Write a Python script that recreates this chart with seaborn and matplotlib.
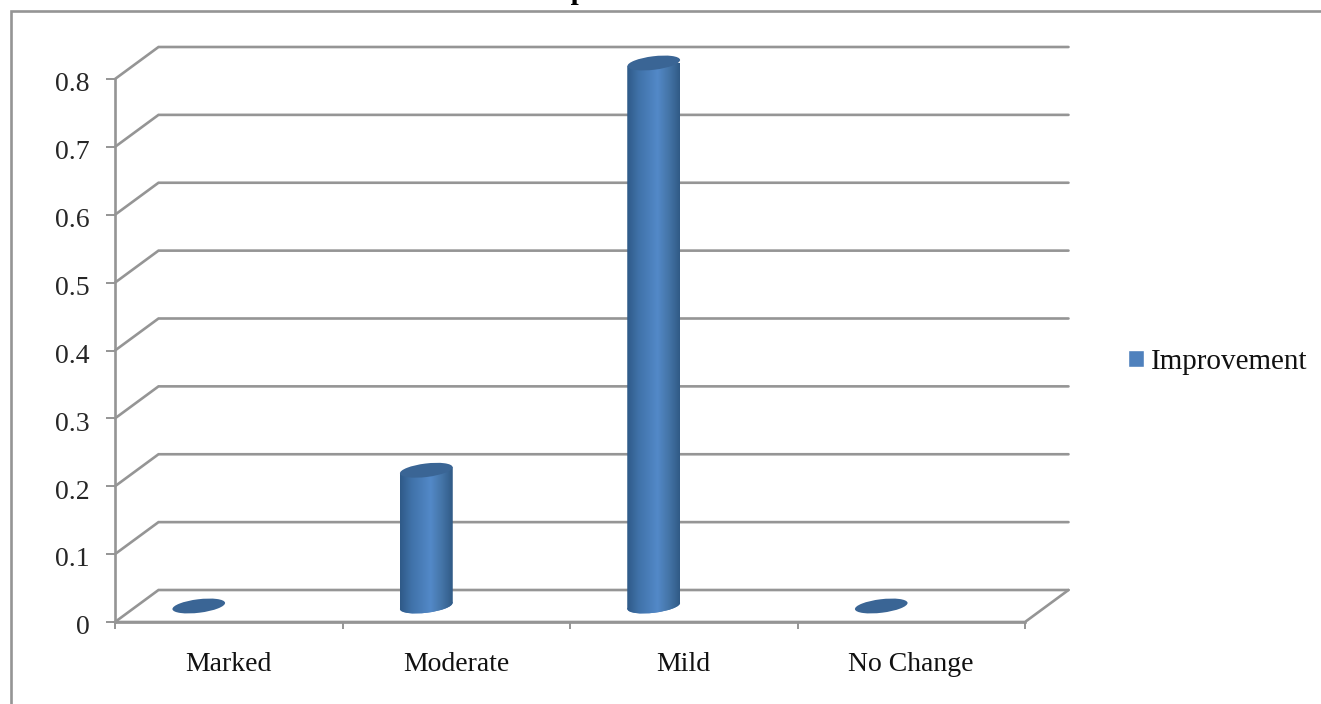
import matplotlib
matplotlib.use("Agg")
import matplotlib.pyplot as plt
from matplotlib.colors import LinearSegmentedColormap
from matplotlib.patches import Ellipse, Patch, Polygon, Rectangle
from matplotlib.transforms import Affine2D, ScaledTranslation
import numpy as np
import pandas as pd
import seaborn as sns

categories = ["Marked", "Moderate", "Mild", "No Change"]
improvement = [0, 0.2, 0.8, 0]
series_name = "Improvement"
y_ticks = [0, 0.1, 0.2, 0.3, 0.4, 0.5, 0.6, 0.7, 0.8]

W, H = 1321, 704
GRAY = "#959595"
BLUE = "#4f81bd"
DARK_TOP = "#3a6595"

sns.set_theme(style="white")
plt.rcParams["font.family"] = ["Liberation Serif", "DejaVu Serif"]
plt.rcParams["text.color"] = "#111111"

fig = plt.figure(figsize=(W / 100, H / 100), dpi=100)


def box(left, top, right, bottom):
    return [left / W, 1 - bottom / H, (right - left) / W, (bottom - top) / H]


# outer frame runs off the right and bottom of the picture
fig.add_artist(Rectangle((11 / W, -0.05), 1.1, 1.05 - 11 / H, transform=fig.transFigure,
                         fill=False, edgecolor=GRAY, linewidth=1.9))
fig.text(620 / W, 1 + 1 / H, series_name, ha="center", va="baseline",
         fontsize=21, fontweight="bold", color="black")

# front plane of the 3D box
ax = fig.add_axes(box(115, 79, 1025, 622))
ax.set_xlim(-0.5, 3.5)
ax.set_ylim(0, 0.8)
ax.patch.set_alpha(0)
dx = 43.5 / 227.5
dy = 32 / 678.75

for v in y_ticks:
    ax.plot([-0.5, -0.5 + dx, 3.5 + dx], [v, v + dy, v + dy], color=GRAY, lw=1.9,
            clip_on=False, solid_joinstyle="miter")
ax.plot([-0.5, 3.5, 3.5 + dx], [0, 0, dy], color=GRAY, lw=1.9, clip_on=False)

for side in ["top", "right"]:
    ax.spines[side].set_visible(False)
for side in ["left", "bottom"]:
    ax.spines[side].set_color(GRAY)
    ax.spines[side].set_linewidth(1.9)
ax.set_yticks(y_ticks, [f"{v:g}" for v in y_ticks], fontsize=20)
ax.set_xticks([-0.5, 0.5, 1.5, 2.5, 3.5], [""] * 5)
ax.tick_params(axis="x", which="major", length=5, width=1.4, color=GRAY, bottom=True)
ax.tick_params(axis="y", which="major", length=6.5, width=1.4, color=GRAY, left=True, pad=12)
nudge = ScaledTranslation(0, -2 / 72, fig.dpi_scale_trans)
for label in ax.get_yticklabels():
    label.set_transform(label.get_transform() + nudge)
for i, name in enumerate(categories):
    ax.text(i, -0.0725, name, ha="center", va="baseline", fontsize=20)

# bars sit inside the box, so they get their own axes shifted back and up
bar_ax = fig.add_axes(box(85, 63, 995, 626))
df = pd.DataFrame({"category": categories, "value": improvement})
sns.barplot(data=df, x="category", y="value", color=BLUE, width=53 / 227.5,
            saturation=1, ax=bar_ax)
low = -20 / 678.75
bar_ax.set_xlim(-0.5, 3.5)
bar_ax.set_ylim(low, 0.8)
bar_ax.axis("off")

shade = LinearSegmentedColormap.from_list(
    "cyl", [(0, "#2f5a88"), (0.22, "#4072a9"), (0.58, "#5389c8"), (0.8, "#4474a6"), (1, "#305a86")])
ramp = np.linspace(0, 1, 128).reshape(1, -1)
slant = 3.2 / 678.75


def disc(x, y, color):
    px, py = bar_ax.transData.transform((x, y))
    return Ellipse((0, 0), 53, 13.5, angle=7, facecolor=color, edgecolor="none",
                   transform=Affine2D().translate(px, py), clip_on=False)


for bar, value in zip(bar_ax.patches, improvement):
    left, right = bar.get_x(), bar.get_x() + bar.get_width()
    x = (left + right) / 2
    bar.set_visible(False)
    if value > 0:
        base = disc(x, 0, BLUE)
        bar_ax.add_patch(base)
        # side of the cylinder, cut along the tilt of the end discs
        side = Polygon([(left, -slant), (right, slant), (right, value + slant), (left, value - slant)],
                       closed=True, facecolor="none", edgecolor="none")
        bar_ax.add_patch(side)
        for clip in [side, base]:
            im = bar_ax.imshow(ramp, cmap=shade, aspect="auto", zorder=2,
                               extent=[left, right, low, value + 0.02])
            im.set_clip_path(clip)
    top = disc(x, value, DARK_TOP)
    top.set_zorder(3)
    bar_ax.add_patch(top)
bar_ax.set_xlim(-0.5, 3.5)
bar_ax.set_ylim(low, 0.8)

fig.legend(handles=[Patch(facecolor=BLUE, label=series_name)], loc="center left",
           bbox_to_anchor=(1102 / W, 1 - 362 / H), frameon=False, fontsize=21,
           handlelength=0.55, handleheight=0.55, handletextpad=0.22)

fig.savefig("out.png", dpi=100)
